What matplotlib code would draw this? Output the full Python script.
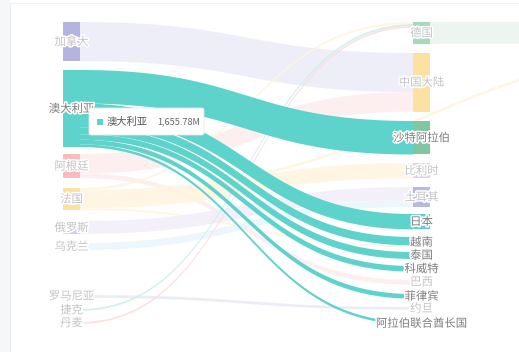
import matplotlib
matplotlib.use('Agg')
import matplotlib.pyplot as plt
import numpy as np
from matplotlib.patches import Rectangle, Polygon, FancyBboxPatch
import matplotlib.patheffects as pe

plt.rcParams['font.family'] = ['Noto Sans CJK SC', 'DejaVu Sans']

# ---------------- data (values in millions) ----------------
sources = ['加拿大', '澳大利亚', '阿根廷', '法国', '俄罗斯', '乌克兰', '罗马尼亚', '捷克', '丹麦']
targets = ['德国', '中国大陆', '沙特阿拉伯', '比利时', '土耳其', '日本', '越南', '泰国',
           '科威特', '巴西', '菲律宾', '约旦', '阿拉伯联合酋长国']
onward = ['其他']

link_src = ['加拿大', '澳大利亚', '澳大利亚', '澳大利亚', '澳大利亚', '澳大利亚', '澳大利亚', '澳大利亚',
            '阿根廷', '阿根廷', '法国', '法国', '法国', '法国', '俄罗斯', '乌克兰', '罗马尼亚',
            '捷克', '丹麦', '德国']
link_tgt = ['中国大陆', '沙特阿拉伯', '日本', '越南', '泰国', '科威特', '菲律宾', '阿拉伯联合酋长国',
            '中国大陆', '巴西', '比利时', '德国', '越南', '其他', '土耳其', '土耳其', '约旦',
            '德国', '德国', '其他']
link_val = [840, 720, 330, 180, 150, 120, 100, 55.78,
            420, 100, 330, 45, 40, 60, 280, 150, 60,
            40, 40, 470]

focus_node = '澳大利亚'
tooltip_value = '1,655.78M'

# ---------------- layout / style ----------------
W, H = 519, 352
px_per_unit = 77 / 1655.78
col_x = {0: 63, 1: 413, 2: 763}
node_w = 17
node_top = {
    '加拿大': 22, '澳大利亚': 70, '阿根廷': 154, '法国': 188, '俄罗斯': 221, '乌克兰': 243,
    '罗马尼亚': 295, '捷克': 309, '丹麦': 322,
    '德国': 22, '中国大陆': 53, '沙特阿拉伯': 121, '比利时': 163, '土耳其': 187, '日本': 214,
    '越南': 237, '泰国': 252, '科威特': 266, '巴西': 280, '菲律宾': 294, '约旦': 307,
    '阿拉伯联合酋长国': 322, '其他': 22,
}
node_col = {}
for n in sources: node_col[n] = 0
for n in targets: node_col[n] = 1
for n in onward: node_col[n] = 2

node_color = {
    '加拿大': '#b4b4df', '澳大利亚': '#5ed3cc', '阿根廷': '#f8bcbc', '法国': '#fde1a2',
    '俄罗斯': '#dacbf1', '乌克兰': '#cdebf7', '罗马尼亚': '#c6c6e6', '捷克': '#bfece8',
    '丹麦': '#f9cfcf', '德国': '#a9d9bb', '中国大陆': '#fde1a2', '沙特阿拉伯': '#80c6a2',
    '比利时': '#ddd0f3', '土耳其': '#b8b9e0', '日本': '#5ed3cc', '越南': '#fde6b0',
    '泰国': '#bfece8', '科威特': '#d4cdee', '巴西': '#cdebf7', '菲律宾': '#d6cbf0',
    '约旦': '#cdebf0', '阿拉伯联合酋长国': '#f9d3d3', '其他': '#a9d9bb',
}
link_color = {
    '加拿大': '#ececf7', '阿根廷': '#fdeded', '法国': '#fff4df', '俄罗斯': '#f2eefa',
    '乌克兰': '#e8f6fc', '罗马尼亚': '#e9e9f4', '捷克': '#cdeeea', '丹麦': '#fbdcdc',
    '德国': '#e9f4ee', '澳大利亚': '#5ed3cc',
}

# ---------------- figure ----------------
fig = plt.figure(figsize=(W / 100, H / 100), dpi=100)
ax = fig.add_axes([0, 0, 1, 1])
ax.set_xlim(0, W)
ax.set_ylim(H, 0)
ax.axis('off')

# panel frame
ax.add_patch(Rectangle((0, 0), 10, H, facecolor='#f6f7f8', edgecolor='none', zorder=0))
ax.plot([10, 10], [3, H], color='#eceef0', lw=0.8, zorder=0)
ax.plot([10, W], [3, 3], color='#f0f1f3', lw=0.8, zorder=0)

# node values
in_sum = {}
out_sum = {}
for s, t, v in zip(link_src, link_tgt, link_val):
    out_sum[s] = out_sum.get(s, 0) + v
    in_sum[t] = in_sum.get(t, 0) + v
all_nodes = sources + targets + onward
node_val = {n: max(in_sum.get(n, 0), out_sum.get(n, 0)) for n in all_nodes}
node_h = {n: node_val[n] * px_per_unit for n in all_nodes}

# link offsets
idx = list(range(len(link_val)))
src_off = {}
tgt_off = {}
for n in all_nodes:
    outs = sorted([i for i in idx if link_src[i] == n], key=lambda i: node_top[link_tgt[i]])
    y = node_top[n]
    for i in outs:
        src_off[i] = y
        y += link_val[i] * px_per_unit
    ins = sorted([i for i in idx if link_tgt[i] == n], key=lambda i: node_top[link_src[i]])
    y = node_top[n]
    for i in ins:
        tgt_off[i] = y
        y += link_val[i] * px_per_unit


def bez(x0, y0, x1, y1, n=80):
    t = np.linspace(0, 1, n)
    xm = (x0 + x1) / 2
    xs = (1 - t) ** 3 * x0 + 3 * (1 - t) ** 2 * t * xm + 3 * (1 - t) * t ** 2 * xm + t ** 3 * x1
    ys = (1 - t) ** 3 * y0 + 3 * (1 - t) ** 2 * t * y0 + 3 * (1 - t) * t ** 2 * y1 + t ** 3 * y1
    return xs, ys


def draw_link(i, z):
    s, t = link_src[i], link_tgt[i]
    x0 = col_x[node_col[s]] + node_w
    x1 = col_x[node_col[t]]
    h = link_val[i] * px_per_unit
    y0, y1 = src_off[i], tgt_off[i]
    xt, yt = bez(x0, y0, x1, y1)
    xb, yb = bez(x0, y0 + h, x1, y1 + h)
    pts = np.vstack([np.column_stack([xt, yt]), np.column_stack([xb[::-1], yb[::-1]])])
    ax.add_patch(Polygon(pts, closed=True, facecolor=link_color[s], edgecolor='none',
                         alpha=0.85 if s != focus_node else 1.0, zorder=z))

for i in idx:
    if link_src[i] != focus_node:
        draw_link(i, 1)
for i in idx:
    if link_src[i] == focus_node:
        draw_link(i, 2)

# nodes
for n in all_nodes:
    ax.add_patch(Rectangle((col_x[node_col[n]], node_top[n]), node_w, node_h[n],
                           facecolor=node_color[n], edgecolor='none', zorder=3))

# labels
focus_targets = set(link_tgt[i] for i in idx if link_src[i] == focus_node)
for n in sources + targets:
    strong = (n == focus_node) or (n in focus_targets)
    col = '#7d7d7d' if strong else '#c4c4c4'
    ax.text(col_x[node_col[n]] + node_w / 2, node_top[n] + node_h[n] / 2, n,
            ha='center', va='center', fontsize=8.2, color=col, zorder=5,
            path_effects=[pe.withStroke(linewidth=2.2, foreground='white')])

# tooltip
box = FancyBboxPatch((89, 108), 115, 27, boxstyle='round,pad=0,rounding_size=2',
                     facecolor='white', edgecolor='#e6e6e6', lw=0.6, zorder=6)
ax.add_patch(box)
ax.add_patch(Rectangle((97, 118.5), 6, 6, facecolor=node_color[focus_node], edgecolor='none', zorder=7))
ax.text(107, 121.5, focus_node, ha='left', va='center', fontsize=7.4, color='#555555', zorder=7)
ax.text(157, 121.5, tooltip_value, ha='left', va='center', fontsize=6.6, color='#666666', zorder=7)

fig.savefig('out.png', dpi=100, facecolor='white')
